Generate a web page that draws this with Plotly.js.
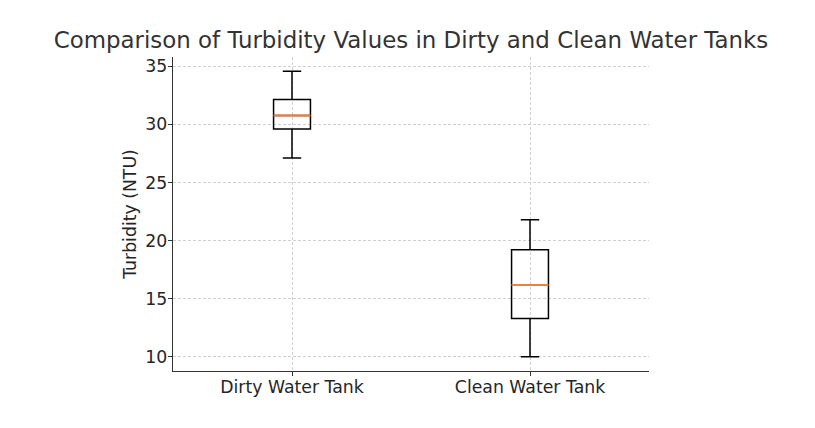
<!DOCTYPE html>
<html>
<head>
<meta charset="utf-8">
<script src="https://cdn.plot.ly/plotly-3.0.1.min.js"></script>
<style>html,body{margin:0;padding:0;background:#fff;}#chart{width:815px;height:428px;}</style>
</head>
<body>
<div id="chart"></div>
<script>
const categories = ["Dirty Water Tank", "Clean Water Tank"];
const positions = [1, 2];
const lowerWhisker = [27.1, 10.0];
const q1Values = [29.6, 13.28];
const medianValues = [30.77, 16.17];
const q3Values = [32.15, 19.2];
const upperWhisker = [34.58, 21.78];
const yTicks = [10, 15, 20, 25, 30, 35];

const boxWidth = 0.155;
const font = "DejaVu Sans, sans-serif";

const boxTrace = {
  type: "box",
  x: positions,
  q1: q1Values,
  median: medianValues,
  q3: q3Values,
  lowerfence: lowerWhisker,
  upperfence: upperWhisker,
  width: boxWidth,
  whiskerwidth: 0.5,
  line: {color: "#000000", width: 1.5},
  fillcolor: "rgba(0,0,0,0)",
  boxpoints: false,
  hoverinfo: "skip",
  showlegend: false
};

const medianTrace = {
  type: "box",
  x: positions,
  q1: medianValues,
  median: medianValues,
  q3: medianValues,
  lowerfence: medianValues,
  upperfence: medianValues,
  width: boxWidth,
  whiskerwidth: 0,
  line: {color: "#F07F3C", width: 2},
  fillcolor: "rgba(0,0,0,0)",
  boxpoints: false,
  hoverinfo: "skip",
  showlegend: false
};

const axisCommon = {
  showgrid: true,
  gridcolor: "#d0d0d0",
  griddash: "3px,2px",
  gridwidth: 1,
  zeroline: false,
  showline: true,
  linecolor: "#333333",
  linewidth: 1.3,
  ticks: "outside",
  ticklen: 4,
  tickcolor: "#333333",
  tickfont: {family: font, size: 17.3, color: "#262626"}
};

const layout = {
  width: 815,
  height: 428,
  margin: {l: 173, r: 166, t: 57, b: 57},
  paper_bgcolor: "#ffffff",
  plot_bgcolor: "#ffffff",
  font: {family: font, color: "#262626", size: 17.3},
  title: {
    text: "Comparison of Turbidity Values in Dirty and Clean Water Tanks",
    font: {family: font, size: 22.9, color: "#333333"},
    x: 0.5, xref: "paper", xanchor: "center",
    y: 1 - 40 / 428, yref: "container", yanchor: "middle"
  },
  xaxis: Object.assign({}, axisCommon, {
    range: [0.5, 2.5],
    tickvals: positions,
    ticktext: categories,
    ticklabelstandoff: -4
  }),
  yaxis: Object.assign({}, axisCommon, {
    range: [8.77, 35.8],
    tickvals: yTicks,
    ticklabelstandoff: -3,
    title: {text: "Turbidity (NTU)", font: {family: font, size: 17.3, color: "#262626"}, standoff: 4}
  }),
  showlegend: false
};

Plotly.newPlot("chart", [boxTrace, medianTrace], layout, {displayModeBar: false, staticPlot: true});
</script>
</body>
</html>
